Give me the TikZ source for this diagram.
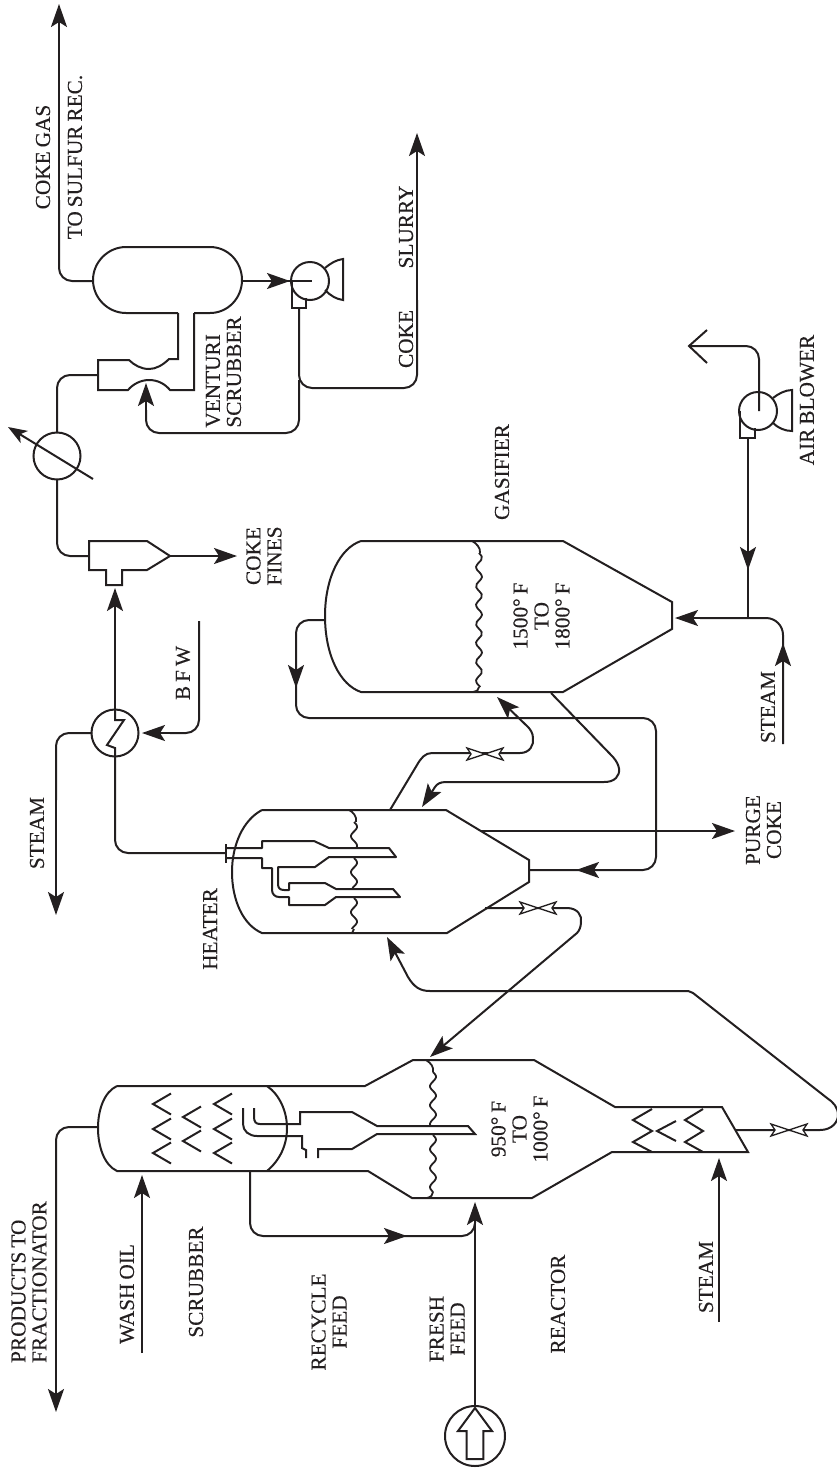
\documentclass[tikz,border=0pt]{standalone}
\usepackage{fontspec}
\setmainfont[WordSpace=0.75]{Liberation Serif}
\usetikzlibrary{arrows.meta}
\definecolor{ink}{HTML}{231F20}
\tikzset{
  pipe/.style={draw=ink,line width=2pt,line join=miter},
  rpipe/.style={pipe,rounded corners=13pt},
  arr/.style={pipe,-{Stealth[length=23pt,width=16pt,inset=5pt]}},
  lab/.style={text=ink,rotate=90,align=center,inner sep=0pt,font=\fontsize{21.3}{21}\selectfont\addfontfeature{FakeBold=0.25}},
  labl/.style={lab,align=left},
}
\newcommand{\valveat}[2]{%
  \filldraw[draw=ink,fill=white,line width=1.3pt] (#1-18,#2-6)--(#1,#2)--(#1-18,#2+6)--(#1-14,#2)--cycle;
  \filldraw[draw=ink,fill=white,line width=1.3pt] (#1+18,#2-6)--(#1,#2)--(#1+18,#2+6)--(#1+14,#2)--cycle;}
\newcommand{\bedwave}[3]{%
  \draw[pipe,line width=1.8pt] plot[smooth,domain=#2:#3,samples=40] ({#1+3*sin((\x-#2)*19)},{\x});}
\begin{document}
\begin{tikzpicture}[x=1pt,y=-1pt]
\useasboundingbox (0,0) rectangle (837,1470);

% ---- scrubber / reactor vessel
\draw[pipe] (117,1086) -- (365,1086) -- (413,1060) -- (534,1060) -- (615,1107) -- (722,1107) -- (748,1152)
  -- (612,1152) -- (532,1198) -- (412,1198) -- (368,1171) -- (117,1171)
  .. controls (104,1165) and (98,1146) .. (98,1128) .. controls (98,1110) and (104,1092) .. (117,1086);
\draw[pipe] (267,1086) .. controls (280,1095) and (287,1112) .. (287,1128) .. controls (287,1145) and (280,1160) .. (267,1171);
% scrubber packing
\foreach \cx/\cy in {153/1104,153/1129,153/1153,214/1104,214/1129,214/1153,183/1117,183/1141}
  \draw[pipe] (\cx+18,\cy-10.5) -- (\cx,\cy) -- (\cx+18,\cy+10.5);
% stripper baffles
\draw[pipe] (652,1109) -- (633,1120) -- (652,1131) -- (633,1142) -- (652,1152);
\draw[pipe] (676,1121) -- (657,1131) -- (676,1141);
\draw[pipe] (703,1109) -- (685,1120) -- (703,1131) -- (685,1142) -- (703,1152);
% reactor cyclone
\draw[pipe] (254,1108) -- (254,1117) .. controls (254,1122) and (256,1124) .. (260,1124) -- (300,1124) -- (300,1112) -- (352,1112) -- (377,1126)
  -- (468,1126) -- (475,1134) -- (377,1134) -- (352,1149) -- (318,1149) -- (318,1158);
\draw[pipe] (243,1108) -- (243,1124) .. controls (243,1131) and (249,1136) .. (257,1136) -- (302,1136) -- (302,1148) -- (306,1150) -- (306,1158);
% reactor bed
\draw[pipe,line width=1.8pt] (426,1060) .. controls (431,1063) and (434,1067) .. (433,1072);
\bedwave{433}{1072}{1125}
\bedwave{433}{1135}{1192}
\draw[pipe,line width=1.8pt] (433,1192) .. controls (433,1195) and (431,1197) .. (427,1198);

% ---- scrubber connections
\draw[rpipe] (98,1127) -- (56,1127) -- (56,1300);
\draw[arr] (56,1300) -- (56,1412);
\draw[arr] (142,1353) -- (142,1175);
\draw[rpipe] (250,1171) -- (250,1236) -- (475,1236) -- (475,1210);
\draw[arr] (350,1236) -- (407,1236);
\draw[arr] (475,1405) -- (475,1202);
% feed pump
\draw[pipe] (475,1436) circle[radius=30];
\draw[pipe] (475,1408) -- (492,1431) -- (483.3,1431) -- (483.3,1459) -- (466.7,1459) -- (466.7,1431) -- (458,1431) -- cycle;
% steam to reactor stripper
\draw[arr] (719,1322) -- (719,1158);

% ---- reactor to heater loops
\draw[arr] (736,1130) -- (820,1130) .. controls (832,1130) and (838,1122) .. (838,1115) .. controls (838,1107) and (833,1102) .. (827,1098)
  -- (693,993) .. controls (690,991) and (688,991) .. (684,991) -- (430,991) .. controls (420,991) and (414,987) .. (408,977) -- (387,937);
\valveat{789}{1130}
\draw[arr] (485,908) -- (567,908) .. controls (578,908) and (582,916) .. (581,922) .. controls (581,927) and (579,931) .. (577,933) -- (430,1057);
\valveat{538}{908}

% ---- heater
\draw[pipe] (262,810) -- (446,810) -- (529,860) -- (529,882) -- (447,933) -- (262,933)
  .. controls (243,925) and (232,900) .. (232,872) .. controls (232,845) and (243,820) .. (262,810);
\draw[pipe] (226,844) -- (226,863);
\draw[pipe,line join=round] (226,848) -- (262,848) -- (262,841) -- (314,841) -- (329,848) -- (389,848) -- (396,857) -- (329,857) -- (315,867)
  -- (278,867) -- (278,884) .. controls (278,888) and (280,890) .. (284,890) -- (289,890) -- (289,883) -- (325,883) -- (336,889) -- (393,889) -- (400,897)
  -- (336,897) -- (325,905) -- (289,905) -- (289,897) -- (279,897) .. controls (275,897) and (272,894) .. (272,890) -- (272,868) -- (262,868) -- (262,858) -- (226,858);
\draw[pipe,line width=1.8pt] (349,810) .. controls (353,812) and (357,816) .. (356,822);
\bedwave{354}{822}{847}
\bedwave{354}{858}{888}
\bedwave{354}{898}{929}
\draw[pipe,line width=1.8pt] (354,929) -- (352,933);
\draw[rpipe] (226,853) -- (115,853) -- (115,757);

% ---- waste heat exchanger
\draw[pipe] (115,733) circle[radius=23.5];
\draw[pipe] (115,710) -- (115,720) -- (124,720) -- (107,745) -- (115,748) -- (115,757);
\draw[arr] (115,710) -- (115,588);
\draw[rpipe] (92,733) -- (56,733) -- (56,800);
\draw[arr] (56,800) -- (56,915);
\draw[rpipe] (199,621) -- (199,733) -- (170,733);
\draw[arr] (175,733) -- (142,733);

% ---- fines cyclone
\draw[pipe] (89,541) -- (147,541) -- (170,556) -- (147,570) -- (122,570) -- (122,585) -- (106,585) -- (106,570) -- (89,570) -- cycle;
\draw[arr] (170,556) -- (237,556);
\draw[rpipe] (89,556) -- (57,556) -- (57,480);

% ---- condenser
\draw[pipe] (57,456) circle[radius=23.5];
\draw[pipe,-{Stealth[length=19pt,width=14pt,inset=5pt]}] (93,479) -- (8,427);
\draw[rpipe] (57,432) -- (57,375) -- (98,375);

% ---- venturi
\draw[pipe] (178,313) -- (178,359) -- (169,359) .. controls (163,365) and (156,369) .. (149,369) .. controls (141,369) and (134,365) .. (129,360) -- (98,360)
  -- (98,390) -- (128,390) .. controls (133,384) and (141,380) .. (149,380) .. controls (158,380) and (165,384) .. (170,390) -- (194,390) -- (194,313);
% drum
\draw[pipe] (126,247) -- (210,247) .. controls (228,247) and (242,262) .. (242,280) .. controls (242,298) and (228,313) .. (210,313)
  -- (194,313) (178,313) -- (126,313) .. controls (108,313) and (93,298) .. (93,280) .. controls (93,262) and (108,247) .. (126,247);
\draw[rpipe] (93,281) -- (59,281) -- (59,200);
\draw[arr] (59,200) -- (59,4);

% ---- slurry pump
\draw[arr] (242,281) -- (290,281);
\draw[pipe] (285,281) -- (312,281);
\draw[pipe] (310,281) circle[radius=19];
\draw[pipe] (292,281) -- (292,308) -- (306,308) -- (306,298);
\draw[pipe] (325,268) .. controls (331,263) and (336,260) .. (343,259) -- (343,300) .. controls (336,299) and (331,296) .. (325,290);
\draw[rpipe] (299,308) -- (299,388) -- (417,388) -- (417,300);
\draw[arr] (417,300) -- (417,133);
\draw[rpipe] (299,380) -- (299,433) -- (146,433) -- (146,410);
\draw[arr] (146,415) -- (146,383);

% ---- gasifier
\draw[pipe] (361,541) -- (563,541) -- (672,602) -- (672,629) -- (563,692) -- (361,692)
  .. controls (340,685) and (325,655) .. (325,616) .. controls (325,578) and (340,548) .. (361,541);
\draw[pipe,line width=1.8pt] (472,541) .. controls (476,543) and (481,548) .. (480,553);
\bedwave{479}{553}{687}
\draw[pipe,line width=1.8pt] (479,687) .. controls (479,690) and (477,691) .. (473,692);
% gasifier loop
\draw[rpipe] (325,620) -- (296,620) -- (296,718) -- (656,718) -- (656,870) -- (529,870);
\draw[arr] (296,650) -- (296,688);
\draw[arr] (610,870) -- (576,870);
% heater to gasifier with valve
\draw[arr] (390,810) -- (417,765) .. controls (421,758) and (425,753) .. (432,753) -- (520,753) .. controls (530,753) and (534,745) .. (533,738) .. controls (533,733) and (530,729) .. (528,727) -- (497,697);
\valveat{485}{754}
% gasifier to heater
\draw[arr] (551,693) -- (613,757) .. controls (620,765) and (621,773) .. (616,778) .. controls (613,781) and (609,782) .. (604,782) -- (446,782) .. controls (440,782) and (437,784) .. (435,787) -- (422,807);
% purge
\draw[arr] (480,831) -- (735,831);

% ---- air blower
\draw[pipe] (758,411) circle[radius=19];
\draw[pipe] (740,411) -- (740,438) -- (755,438) -- (755,428);
\draw[pipe] (773,398) .. controls (778,394) and (785,390) .. (792,390) -- (792,431) .. controls (785,431) and (778,428) .. (773,423);
\draw[rpipe] (759,411) -- (759,346) -- (689,346);
\draw[pipe] (707,330) -- (689,346) -- (707,363);
\draw[arr] (748,438) -- (748,570);
\draw[pipe] (748,560) -- (748,618);
\draw[pipe,rounded corners=17pt] (783,744) -- (783,618) -- (700,618);
\draw[arr] (710,618) -- (675,618);
\draw[arr] (783,744) -- (783,643);

% ---- labels
\node[labl] (products) at (29,1282) {PRODUCTS TO\\FRACTIONATOR};
\node[lab] (washoil) at (127,1294) {WASH OIL};
\node[lab] (scrubber) at (196,1282) {SCRUBBER};
\node[lab] (recycle) at (329,1322) {RECYCLE\\FEED};
\node[lab] (fresh) at (447,1329) {FRESH\\FEED};
\node[lab] (reactor) at (558,1304) {REACTOR};
\node[lab] (steamr) at (706,1277) {STEAM};
\node[lab] (rtemp) at (519.5,1129) {950° F\\TO\\1000° F};
\node[lab] (heater) at (210,929) {HEATER};
\node[lab] (steamh) at (37,833) {STEAM};
\node[lab] (bfw) at (183,673) {B F W};
\node[lab] (fines) at (264,556) {COKE\\FINES};
\node[lab] (purge) at (763.5,830) {PURGE\\COKE};
\node[lab] (gtemp) at (541.5,616) {1500° F\\TO\\1800° F};
\node[lab] (gasifier) at (502,472) {GASIFIER};
\node[lab] (steamg) at (768,707) {STEAM};
\node[lab] (air) at (807,400) {AIR BLOWER};
\node[lab] (cokegas) at (43,157) {COKE GAS};
\node[lab] (sulfur) at (75,157) {TO SULFUR REC.};
\node[labl] (venturi) at (223.5,372) {VENTURI\\SCRUBBER};
\node[lab] (coke) at (406,339) {COKE};
\node[lab] (slurry) at (406,227) {SLURRY};
\end{tikzpicture}
\end{document}
